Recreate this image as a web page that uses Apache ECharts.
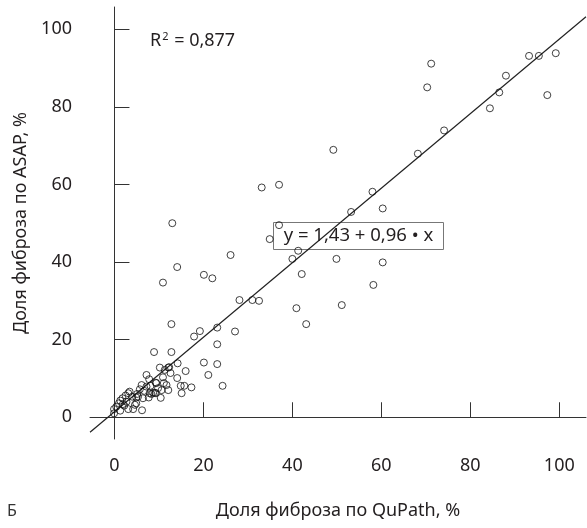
<!DOCTYPE html>
<html>
<head>
<meta charset="utf-8">
<script src="https://cdn.jsdelivr.net/npm/echarts@6/dist/echarts.min.js"></script>
<style>html,body{margin:0;padding:0;background:#fff}#c{width:587px;height:528px}</style>
</head>
<body>
<div id="c"></div>
<script>
// QuPath (x), ASAP (y) fibrosis shares, %
const qupath = [99.2,95.4,93.2,97.3,88.0,86.5,84.4,74.1,71.2,70.3,68.2,49.2,58.0,53.2,60.3,37.0,33.1,13.0,37.0,34.9,
  41.3,40.0,49.9,60.3,42.1,58.2,28.1,31.0,32.5,40.9,51.1,43.1,26.1,14.1,10.9,20.1,22.0,12.8,19.2,17.9,
  23.1,27.1,23.1,8.9,12.8,20.1,23.1,21.1,24.3,14.2,16.0,10.2,11.3,12.1,10.9,14.1,9.3,11.1,14.9,15.7,
  17.3,12.1,15.1,10.6,7.9,7.2,7.8,9.4,11.7,10.4,9.1,8.3,7.2,6.1,5.7,6.4,5.1,4.0,3.1,1.8,
  1.0,1.9,3.1,4.9,6.2,-0.1,-0.1,1.3,0.4,2.7,2.5,1.3,4.6,3.4,6.7,8.7,9.8,4.9,7.7,12.3,
  8.1,5.3,9.3,4.2,2.2,12.6];
const asap = [93.8,93.1,93.1,83.0,88.0,83.7,79.6,73.9,91.1,85.0,67.9,68.9,58.1,52.9,53.8,59.9,59.2,50.0,49.5,45.9,
  42.9,40.8,40.8,39.9,36.9,34.1,30.2,30.2,30.0,28.1,28.9,24.0,41.8,38.7,34.7,36.7,35.8,24.0,22.2,20.8,
  23.1,22.1,18.8,16.8,16.8,14.1,13.7,10.9,8.1,13.9,11.9,12.8,12.2,12.8,10.3,10.1,8.9,8.8,8.1,8.1,
  7.7,7.0,6.2,7.0,6.2,10.9,9.8,8.8,8.3,5.0,6.3,6.0,7.9,8.3,7.2,4.9,6.0,5.3,6.2,4.9,
  3.6,3.4,2.1,3.6,1.8,2.1,1.0,1.7,2.7,4.0,5.6,4.3,3.2,6.6,6.8,6.3,7.5,5.1,5.1,12.9,
  8.1,5.3,6.2,2.1,3.0,11.4];
const tickValues = [0, 20, 40, 60, 80, 100];
const intercept = 1.43, slope = 0.96;
const xMin = -5.5, xMax = 106, yMin = -5.6, yMax = 105.7;

const points = qupath.map((x, i) => [x, asap[i]]);
const fitLine = [[xMin, intercept + slope * xMin], [xMax, intercept + slope * xMax]];

const FONT = 'Noto Sans';
const chart = echarts.init(document.getElementById('c'), null, {renderer: 'canvas'});
const axisCommon = {
  type: 'value',
  axisLine: {show: true, lineStyle: {color: '#333', width: 1}},
  axisTick: {show: true, inside: true, length: 15, lineStyle: {color: '#333', width: 1}, customValues: tickValues},
  axisLabel: {color: '#231f20', fontSize: 18, fontFamily: FONT, margin: 18, customValues: tickValues},
  splitLine: {show: false},
  nameLocation: 'middle',
  nameTextStyle: {color: '#231f20', fontSize: 18, fontFamily: FONT}
};
chart.setOption({
  animation: false,
  backgroundColor: '#fff',
  grid: {left: 90, right: 1, top: 7, bottom: 89, containLabel: false},
  xAxis: Object.assign({}, axisCommon, {min: xMin, max: xMax, name: 'Доля фиброза по QuPath, %', nameGap: 63}),
  yAxis: Object.assign({}, axisCommon, {min: yMin, max: yMax, name: 'Доля фиброза по ASAP, %', nameGap: 57}),
  series: [
    {type: 'line', data: fitLine, symbol: 'none', lineStyle: {color: '#222', width: 1.2}, z: 1, silent: true},
    {type: 'scatter', data: points, symbol: 'circle', symbolSize: 7,
     itemStyle: {color: 'rgba(255,255,255,0)', borderColor: '#111', borderWidth: 1}, z: 2}
  ],
  graphic: [
    {type: 'text', left: 150, top: 31, style: {
      text: '{r|R}{s|2}{r| = 0,877}',
      rich: {r: {fontSize: 18, fontFamily: FONT, fill: '#231f20'}, s: {fontSize: 11, fontFamily: FONT, fill: '#231f20', verticalAlign: 'top', padding: [0,1,8,1]}}
    }},
    {type: 'group', left: 273, top: 222, z: 100, children: [
      {type: 'rect', shape: {x: 0, y: 0, width: 170, height: 27}, style: {fill: '#fff', stroke: '#777', lineWidth: 1}},
      {type: 'text', x: 85, y: 13.5, style: {text: 'y = 1,43 + 0,96 • x', fontSize: 18.5, fontFamily: FONT, fill: '#231f20', align: 'center', verticalAlign: 'middle'}}
    ]},
    {type: 'text', left: 7, top: 503, style: {text: 'Б', fontSize: 16, fontFamily: FONT, fill: '#333'}}
  ]
});
</script>
</body>
</html>
